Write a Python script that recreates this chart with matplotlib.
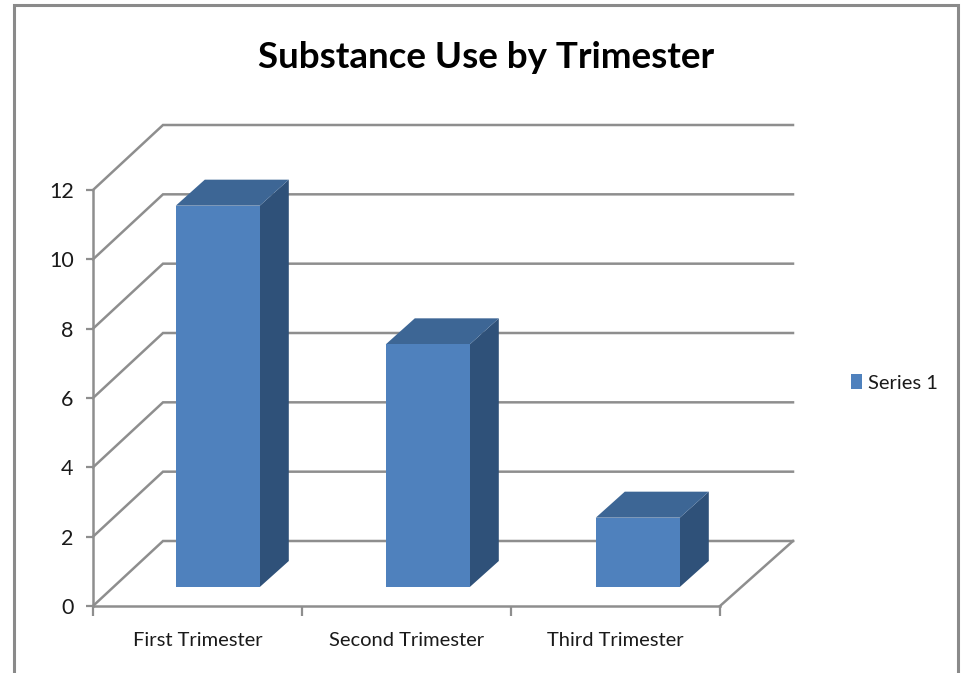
import matplotlib
matplotlib.use("Agg")
import matplotlib.pyplot as plt
from matplotlib.patches import Polygon, Patch, Rectangle

categories = ["First Trimester", "Second Trimester", "Third Trimester"]
series_name = "Series 1"
values = [11, 7, 2]
y_ticks = [0, 2, 4, 6, 8, 10, 12]
title = "Substance Use by Trimester"

W, H = 961, 673
FONT = ["Lato", "DejaVu Sans"]
GRID = "#8E8E8E"
FRONT, TOP, SIDE = "#4F81BD", "#3D6695", "#2F5179"
TEXT = "#1a1a1a"

fig = plt.figure(figsize=(W / 100, H / 100), dpi=100, facecolor="white")
# axes = front plane of the 3-D box, in pixels
L, R, T, B = 93, 720, 190, 606
ax = fig.add_axes([L / W, 1 - B / H, (R - L) / W, (B - T) / H], facecolor="none")
ax.set_xlim(0, 3)
ax.set_ylim(0, 12)

ux = (R - L) / 3      # px per category
uy = (B - T) / 12     # px per value unit
DX, DY = 70 / ux, 65 / uy        # full box depth in data units
EXT = 3 / ux

# gridlines: wall diagonal + back wall line
for v in y_ticks:
    ax.plot([0, DX, 3 + DX + EXT], [v, v + DY, v + DY], color=GRID, lw=1.8,
            clip_on=False, zorder=1, solid_joinstyle="miter")
# floor edge on the right
ax.plot([3, 3 + DX + EXT], [0, DY], color=GRID, lw=1.8, clip_on=False, zorder=1)

# bars
b_dy = 19 / uy                   # front of bar inset from front plane
d_x, d_y = 29 / ux, 26 / uy      # bar depth
bw = 84 / ux
for i, v in enumerate(values):
    x0 = (82.8 + 210 * i) / ux
    x1 = x0 + bw
    y0 = b_dy
    y1 = y0 + v
    ax.add_patch(Polygon([(x1, y0), (x1 + d_x, y0 + d_y), (x1 + d_x, y1 + d_y), (x1, y1)],
                         closed=True, fc=SIDE, ec="none", clip_on=False, zorder=3))
    ax.add_patch(Polygon([(x0, y1), (x0 + d_x, y1 + d_y), (x1 + d_x, y1 + d_y), (x1, y1)],
                         closed=True, fc=TOP, ec="none", clip_on=False, zorder=3))
    ax.add_patch(Rectangle((x0, y0), bw, v, fc=FRONT, ec="none", clip_on=False, zorder=4))

# axes
for s in ("top", "right"):
    ax.spines[s].set_visible(False)
for s in ("left", "bottom"):
    ax.spines[s].set_color(GRID)
    ax.spines[s].set_linewidth(1.8)
    ax.spines[s].set_zorder(2)
ax.set_yticks(y_ticks)
ax.set_xticks([0, 1, 2, 3])
ax.set_xticklabels([])
ax.set_xticks([0.5, 1.5, 2.5], labels=categories, minor=True)
ax.tick_params(axis="y", length=5, width=1.6, color=GRID, pad=9,
               labelsize=15.5, labelcolor=TEXT)
ax.tick_params(axis="x", which="major", length=7, width=1.6, color=GRID)
ax.tick_params(axis="x", which="minor", length=0, pad=19, labelsize=14.5, labelcolor=TEXT)
for t in ax.get_yticklabels() + ax.get_xticklabels(minor=True):
    t.set_fontfamily(FONT)

# title
fig.text(486 / W, 1 - 58 / H, title, ha="center", va="center",
         fontsize=26.5, fontweight="bold", family=FONT, color="black")

# legend
leg = fig.legend(handles=[Patch(fc=FRONT, ec="none", label=series_name)],
                 loc="center left", bbox_to_anchor=(851 / W, 1 - 383 / H),
                 frameon=False, prop={"family": FONT, "size": 14.5},
                 handlelength=0.55, handleheight=0.75, handletextpad=0.3,
                 borderpad=0, borderaxespad=0)
leg.get_texts()[0].set_color(TEXT)

# outer border (open at the bottom)
fig.add_artist(plt.Line2D([14 / W, 14 / W, 958 / W, 958 / W],
                          [0, 1 - 5 / H, 1 - 5 / H, 0], color="#8A8A8A", lw=2.2,
                          transform=fig.transFigure, solid_joinstyle="miter"))

fig.savefig("out.png", dpi=100, facecolor="white")
